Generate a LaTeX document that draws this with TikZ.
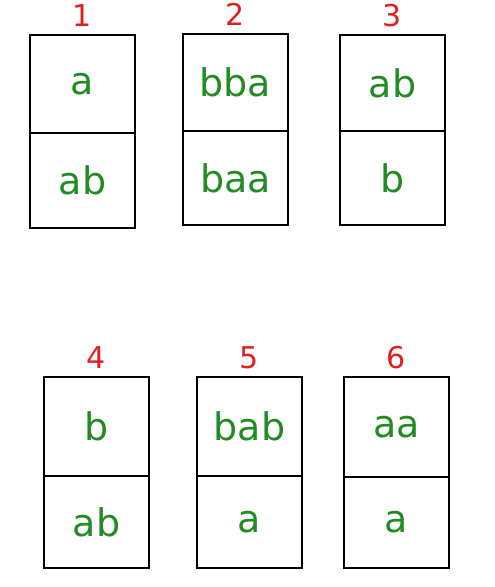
\documentclass[tikz,border=0pt]{standalone}
\usepackage{fontspec}
\setmainfont{DejaVu Sans}
\usepackage{tikz}
\usetikzlibrary{positioning}
\usepackage{xcolor}
\definecolor{tilegreen}{RGB}{34,139,34}
\definecolor{numred}{RGB}{222,32,32}
\tikzset{cell/.style={draw=black,line width=2.5pt,minimum width=105pt,inner sep=0pt,outer sep=0pt,text=tilegreen,font=\fontsize{38}{38}\selectfont},
num/.style={text=numred,font=\fontsize{30}{30}\selectfont,inner sep=0pt}}

\begin{document}
\begin{tikzpicture}[x=1pt,y=-1pt]
\useasboundingbox (0,0) rectangle (495,587);
\node[cell,minimum height=98pt] (top1) at (82.5,84) {a};
\node[cell,minimum height=95pt] (bot1) at (82.5,180.5) {ab};
\node[cell,minimum height=97pt] (top2) at (235.5,82.5) {bba};
\node[cell,minimum height=94pt] (bot2) at (235.5,178) {baa};
\node[cell,minimum height=96pt] (top3) at (392.5,83) {ab};
\node[cell,minimum height=94pt] (bot3) at (392.5,178) {b};
\node[cell,minimum height=99pt] (top4) at (96.5,426.5) {b};
\node[cell,minimum height=92pt] (bot4) at (96.5,522) {ab};
\node[cell,minimum height=99pt] (top5) at (249.5,426.5) {bab};
\node[cell,minimum height=92pt] (bot5) at (249.5,522) {a};
\node[cell,minimum height=100pt] (top6) at (396.5,427) {aa};
\node[cell,minimum height=91pt] (bot6) at (396.5,522.5) {a};
\node[num,above=8pt of top1] (num1) {1};
\node[num,above=8pt of top2] (num2) {2};
\node[num,above=8pt of top3] (num3) {3};
\node[num,above=8pt of top4] (num4) {4};
\node[num,above=8pt of top5] (num5) {5};
\node[num,above=8pt of top6] (num6) {6};
\end{tikzpicture}
\end{document}
